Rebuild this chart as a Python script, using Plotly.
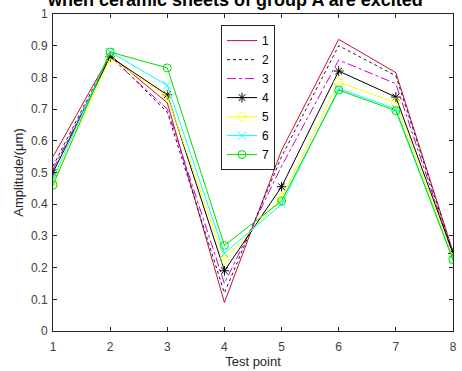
import plotly.graph_objects as go

test_points = [1, 2, 3, 4, 5, 6, 7, 8]
s1 = [0.55, 0.87, 0.72, 0.09, 0.57, 0.92, 0.815, 0.25]
s2 = [0.52, 0.87, 0.69, 0.12, 0.55, 0.90, 0.805, 0.245]
s3 = [0.51, 0.865, 0.70, 0.15, 0.52, 0.855, 0.78, 0.24]
s4 = [0.50, 0.865, 0.745, 0.19, 0.455, 0.82, 0.738, 0.245]
s5 = [0.47, 0.86, 0.74, 0.225, 0.42, 0.785, 0.72, 0.23]
s6 = [0.48, 0.88, 0.775, 0.245, 0.40, 0.765, 0.70, 0.225]
s7 = [0.46, 0.88, 0.83, 0.27, 0.41, 0.76, 0.695, 0.225]
names = ["1", "2", "3", "4", "5", "6", "7"]
title_text = "when ceramic sheets of group A are excited"

styles = [
    dict(color="#C8102E", dash="solid", symbol=None),
    dict(color="#1a1a3a", dash="dot", symbol=None),
    dict(color="#CC00CC", dash="dashdot", symbol=None),
    dict(color="#000000", dash="solid", symbol="asterisk-open"),
    dict(color="#FFFF00", dash="solid", symbol="diamond-open"),
    dict(color="#00FFFF", dash="solid", symbol="x-thin-open"),
    dict(color="#00DD00", dash="solid", symbol="circle-open"),
]

fig = go.Figure()
for name, ys, st in zip(names, [s1, s2, s3, s4, s5, s6, s7], styles):
    mode = "lines+markers" if st["symbol"] else "lines"
    kw = {}
    if st["symbol"]:
        kw["marker"] = dict(symbol=st["symbol"], size=8, color=st["color"],
                            line=dict(color=st["color"], width=1))
    fig.add_trace(go.Scatter(x=test_points, y=ys, name=name, mode=mode,
                             line=dict(color=st["color"], width=1, dash=st["dash"]),
                             **kw))

axis_common = dict(showgrid=False, zeroline=False, showline=True, linecolor="#262626",
                   linewidth=1, mirror="ticks", ticks="inside", ticklen=4,
                   tickcolor="#262626", tickfont=dict(family="Arial", size=12, color="#404040"))

fig.add_annotation(text="<b>" + title_text + "</b>", xref="paper", yref="paper",
                   x=0.456, y=1, xanchor="center", yanchor="bottom", yshift=2,
                   showarrow=False, font=dict(family="Arial", size=18, color="#000000"))

fig.update_layout(
    width=462, height=371,
    margin=dict(l=53, r=5, t=14, b=39),
    paper_bgcolor="white", plot_bgcolor="white",
    font=dict(family="Arial", color="#262626"),
    xaxis=dict(range=[1, 8], dtick=1, ticklabelstandoff=5,
               title=dict(text="Test point", font=dict(size=13), standoff=2),
               **axis_common),
    yaxis=dict(range=[0, 1], dtick=0.1, ticklabelstandoff=2,
               title=dict(text="Amplitude/(μm)", font=dict(size=13), standoff=4),
               **axis_common),
    legend=dict(x=0.42, y=0.965, xanchor="left", yanchor="top", bgcolor="white",
                bordercolor="#262626", borderwidth=1, font=dict(family="Arial", size=12, color="#000000"),
                tracegroupgap=0, itemwidth=30),
    showlegend=True,
)

fig.write_html("out.html")
